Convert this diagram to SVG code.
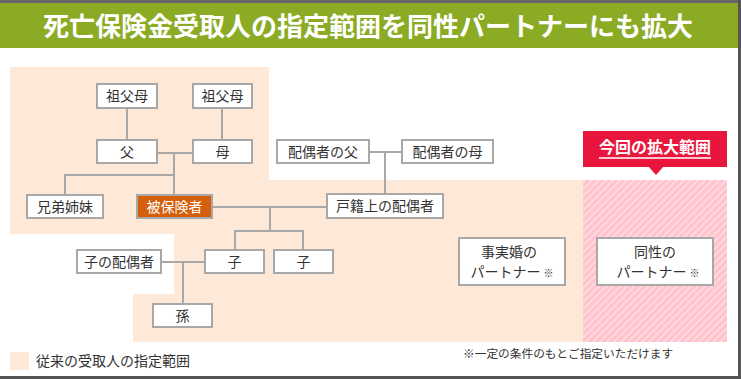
<svg xmlns="http://www.w3.org/2000/svg" width="741" height="379" viewBox="0 0 741 379">
<style>
text{font-family:"Noto Sans CJK JP","Noto Sans",sans-serif;fill:#333;}
.n rect{fill:#fff;stroke:#a8a8a8;stroke-width:2;}
.n text{font-size:14px;text-anchor:middle;}
.c line, .c polyline{stroke:#a8a8a8;stroke-width:2;fill:none;}
.sm{font-size:10px;}
</style>
<defs>
<pattern id="hatch" patternUnits="userSpaceOnUse" width="5" height="5" patternTransform="rotate(45)">
<rect width="5" height="5" fill="#ffc3cd"/>
<rect width="2" height="5" fill="#ffd9df"/>
</pattern>
</defs>
<rect width="741" height="379" fill="#fff"/>
<rect x="0" y="3" width="738" height="45" fill="#8bab24"/>
<line x1="0" y1="1.5" x2="741" y2="1.5" stroke="#666" stroke-width="3"/>
<line x1="739.5" y1="0" x2="739.5" y2="379" stroke="#555" stroke-width="3"/>
<line x1="0" y1="377.5" x2="741" y2="377.5" stroke="#555" stroke-width="3"/>
<text x="368" y="36" font-size="26" font-weight="bold" text-anchor="middle" style="fill:#fff">死亡保険金受取人の指定範囲を同性パートナーにも拡大</text>

<polygon points="10,67 269,67 269,180 583,180 583,342 133,342 133,294 174,294 174,234 10,234" fill="#fee9d8"/>
<rect x="583" y="180" width="144" height="162" fill="url(#hatch)"/>

<g id="callout">
<rect x="583" y="131" width="144" height="36" fill="#e8163c"/>
<polygon points="648,166 664,166 656,175" fill="#e8163c"/>
<text x="655" y="153" font-size="16" font-weight="bold" text-anchor="middle" style="fill:#fff">今回の拡大範囲</text>
<line x1="599" y1="158" x2="711" y2="158" stroke="#fff" stroke-width="1.5"/>
</g>

<g class="c" id="connectors">
<line x1="127" y1="108" x2="127" y2="140"/>
<line x1="222" y1="108" x2="222" y2="140"/>
<line x1="157" y1="153" x2="193" y2="153"/>
<line x1="174" y1="153" x2="174" y2="195"/>
<polyline points="174,175 65,175 65,195"/>
<line x1="212" y1="207" x2="327" y2="207"/>
<line x1="270" y1="207" x2="270" y2="231"/>
<polyline points="235,250 235,231 303,231 303,250"/>
<line x1="161" y1="262" x2="205" y2="262"/>
<line x1="183" y1="262" x2="183" y2="304"/>
<line x1="369" y1="152" x2="402" y2="152"/>
<line x1="385" y1="152" x2="385" y2="194"/>
</g>

<g class="n" id="n-sofubo1"><rect x="97" y="84" width="60" height="24"/><text x="127" y="101">祖父母</text></g>
<g class="n" id="n-sofubo2"><rect x="193" y="84" width="59" height="24"/><text x="222.5" y="101">祖父母</text></g>
<g class="n" id="n-chichi"><rect x="97" y="140" width="60" height="23"/><text x="127" y="156.5">父</text></g>
<g class="n" id="n-haha"><rect x="193" y="140" width="59" height="23"/><text x="222.5" y="156.5">母</text></g>
<g class="n" id="n-kyodai"><rect x="27" y="195" width="76" height="23"/><text x="65" y="211.5">兄弟姉妹</text></g>
<g class="n" id="n-hihoken"><rect x="137" y="195" width="75" height="23" style="fill:#d4600e"/><text x="174.5" y="211.5" style="fill:#fff">被保険者</text></g>
<g class="n" id="n-haigu-chichi"><rect x="277" y="140" width="92" height="23"/><text x="323" y="156.5">配偶者の父</text></g>
<g class="n" id="n-haigu-haha"><rect x="402" y="140" width="91" height="23"/><text x="447.5" y="156.5">配偶者の母</text></g>
<g class="n" id="n-koseki"><rect x="327" y="194" width="116" height="24"/><text x="385" y="211">戸籍上の配偶者</text></g>
<g class="n" id="n-ko1"><rect x="205" y="250" width="59" height="23"/><text x="234.5" y="266.5">子</text></g>
<g class="n" id="n-ko2"><rect x="274" y="250" width="59" height="23"/><text x="303.5" y="266.5">子</text></g>
<g class="n" id="n-ko-haigu"><rect x="77" y="250" width="84" height="23"/><text x="119" y="266.5">子の配偶者</text></g>
<g class="n" id="n-mago"><rect x="153" y="304" width="59" height="23"/><text x="182.5" y="320.5">孫</text></g>
<g class="n" id="n-jijitsukon"><rect x="459" y="238" width="106" height="47"/><text x="509" y="257">事実婚の</text><text x="512" y="277">パートナー <tspan class="sm">※</tspan></text></g>
<g class="n" id="n-dosei"><rect x="597" y="238" width="116" height="47"/><text x="655" y="257">同性の</text><text x="658" y="277">パートナー <tspan class="sm">※</tspan></text></g>

<g id="legend">
<rect x="10" y="352" width="19" height="18" fill="#fee9d8"/>
<text x="36" y="366" font-size="14">従来の受取人の指定範囲</text>
</g>
<text x="463" y="358" font-size="11.7">※一定の条件のもとご指定いただけます</text>
</svg>
